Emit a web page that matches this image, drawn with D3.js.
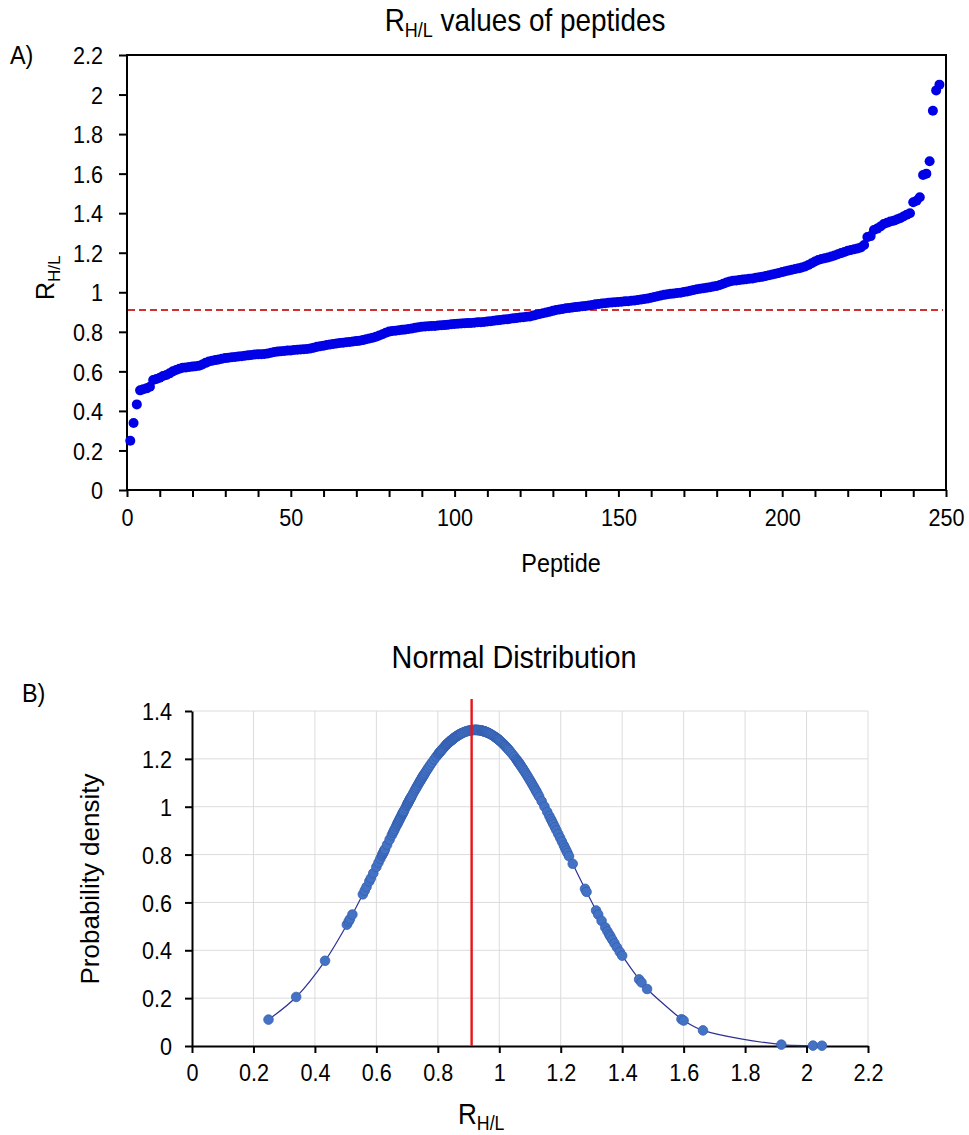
<!DOCTYPE html>
<html>
<head>
<meta charset="utf-8">
<script src="https://cdn.jsdelivr.net/npm/d3@7"></script>
<style>
  body { margin: 0; background: #fff; }
  svg text { font-family: "Liberation Sans", Arial, sans-serif; fill: #000; }
</style>
</head>
<body>
<div id="vis"></div>
<script>
// R(H/L) ratio of each peptide, sorted ascending (peptide 1..248)
const rhlValues = [
  0.249, 0.339, 0.433, 0.504, 0.510, 0.514, 0.522, 0.556, 0.562, 0.568,
  0.577, 0.582, 0.590, 0.600, 0.607, 0.613, 0.618, 0.620, 0.622, 0.624,
  0.626, 0.628, 0.635, 0.643, 0.650, 0.654, 0.657, 0.660, 0.664, 0.667,
  0.669, 0.671, 0.673, 0.675, 0.677, 0.679, 0.681, 0.683, 0.685, 0.686,
  0.687, 0.688, 0.690, 0.694, 0.698, 0.700, 0.702, 0.703, 0.705, 0.706,
  0.708, 0.709, 0.711, 0.712, 0.713, 0.716, 0.720, 0.724, 0.727, 0.730,
  0.733, 0.736, 0.739, 0.741, 0.743, 0.745, 0.747, 0.749, 0.751, 0.753,
  0.755, 0.758, 0.762, 0.766, 0.770, 0.775, 0.781, 0.788, 0.795, 0.801,
  0.804, 0.806, 0.808, 0.810, 0.812, 0.814, 0.817, 0.820, 0.823, 0.826,
  0.827, 0.828, 0.829, 0.830, 0.832, 0.833, 0.834, 0.836, 0.838, 0.840,
  0.841, 0.842, 0.843, 0.844, 0.845, 0.846, 0.848, 0.849, 0.850, 0.852,
  0.854, 0.856, 0.858, 0.860, 0.862, 0.864, 0.866, 0.868, 0.870, 0.872,
  0.874, 0.876, 0.878, 0.882, 0.886, 0.890, 0.894, 0.898, 0.902, 0.906,
  0.910, 0.913, 0.916, 0.919, 0.921, 0.923, 0.925, 0.927, 0.929, 0.931,
  0.933, 0.936, 0.939, 0.941, 0.943, 0.945, 0.947, 0.948, 0.950, 0.951,
  0.952, 0.954, 0.955, 0.957, 0.959, 0.961, 0.963, 0.966, 0.969, 0.972,
  0.976, 0.980, 0.984, 0.987, 0.990, 0.992, 0.994, 0.996, 0.998, 1.001,
  1.004, 1.008, 1.012, 1.015, 1.018, 1.020, 1.023, 1.026, 1.029, 1.032,
  1.037, 1.043, 1.049, 1.055, 1.058, 1.060, 1.062, 1.064, 1.066, 1.068,
  1.070, 1.073, 1.076, 1.079, 1.082, 1.086, 1.090, 1.094, 1.098, 1.102,
  1.106, 1.110, 1.114, 1.118, 1.121, 1.125, 1.130, 1.138, 1.147, 1.156,
  1.163, 1.168, 1.172, 1.176, 1.181, 1.186, 1.192, 1.198, 1.204, 1.210,
  1.214, 1.218, 1.222, 1.227, 1.239, 1.279, 1.284, 1.315, 1.322, 1.333,
  1.345, 1.352, 1.358, 1.362, 1.368, 1.375, 1.383, 1.392, 1.400, 1.455,
  1.463, 1.481, 1.593, 1.600, 1.663, 1.918, 2.021, 2.050
];

// tick labels
const xTicksA = [0, 50, 100, 150, 200, 250];
const yTicksA = [0, 0.2, 0.4, 0.6, 0.8, 1, 1.2, 1.4, 1.6, 1.8, 2, 2.2];
const xTicksB = [0, 0.2, 0.4, 0.6, 0.8, 1, 1.2, 1.4, 1.6, 1.8, 2, 2.2];
const yTicksB = [0, 0.2, 0.4, 0.6, 0.8, 1, 1.2, 1.4];

// reference line (red) and the normal fit
const thresholdValue = 0.91;
const fitMean = 0.922;
const fitSd = 0.302;

const W = 969, H = 1135;
const SQ = 0.9; // the source text is slightly condensed

const svg = d3.select("#vis").append("svg")
  .attr("width", W).attr("height", H);
svg.append("rect").attr("width", W).attr("height", H).attr("fill", "#fff");

function squeeze(sel) { sel.attr("transform", `scale(${SQ},1)`); }

// label with subscript: R with H/L
function rhl(g, size) {
  const t = g.append("text").attr("font-size", size);
  t.append("tspan").text("R");
  t.append("tspan").attr("font-size", size * 0.68).attr("dy", size * 0.22).text("H/L");
  return t;
}

// ---------------- panel A ----------------
const A = { left: 127, right: 946, top: 55, bottom: 490 };
const xA = d3.scaleLinear().domain([0, 250]).range([A.left, A.right]);
const yA = d3.scaleLinear().domain([0, 2.2]).range([A.bottom, A.top]);

const gA = svg.append("g");

// title
const tA = gA.append("g").attr("transform", `translate(525,31) scale(${SQ},1)`);
const titleA = tA.append("text").attr("font-size", 31).attr("text-anchor", "middle");
titleA.append("tspan").text("R");
titleA.append("tspan").attr("font-size", 20).attr("dy", 6).text("H/L");
titleA.append("tspan").attr("dy", -6).text(" values of peptides");

gA.append("g").attr("transform", `translate(10,64) scale(${SQ},1)`)
  .append("text").attr("font-size", 26).text("A)");

// axes
const axA_y = gA.append("g").attr("transform", `translate(${A.left},0)`)
  .call(d3.axisLeft(yA).tickValues(yTicksA).tickSize(8).tickFormat(d3.format("~g")));
const axA_x = gA.append("g").attr("transform", `translate(0,${A.bottom})`)
  .call(d3.axisBottom(xA).tickValues(d3.range(0, 251, 10)).tickSize(7)
    .tickFormat(d => xTicksA.includes(d) ? d : ""));

[axA_y, axA_x].forEach(a => {
  a.select(".domain").remove();
  a.selectAll(".tick line").attr("stroke", "#000").attr("stroke-width", 2);
  a.selectAll("text").attr("font-size", 24).attr("fill", "#000").call(squeeze);
});
axA_y.selectAll("text").attr("x", -24 / SQ).attr("dy", "0.36em");
axA_x.selectAll("text").attr("y", 19).attr("dy", "0.71em");

gA.append("rect")
  .attr("x", A.left).attr("y", A.top)
  .attr("width", A.right - A.left).attr("height", A.bottom - A.top)
  .attr("fill", "none").attr("stroke", "#000").attr("stroke-width", 2);

// threshold line
gA.append("line")
  .attr("x1", A.left + 1).attr("x2", A.right - 3)
  .attr("y1", yA(thresholdValue)).attr("y2", yA(thresholdValue))
  .attr("stroke", "#d03030").attr("stroke-width", 2)
  .attr("stroke-dasharray", "7,4");

// points
gA.append("g").selectAll("circle").data(rhlValues).join("circle")
  .attr("cx", (d, i) => xA(i + 1))
  .attr("cy", d => yA(d))
  .attr("r", 5)
  .attr("fill", "#0000e6");

// axis titles
const tAy = gA.append("g").attr("transform", "translate(54,300) rotate(-90)");
rhl(tAy, 25);
gA.append("g").attr("transform", `translate(561,572) scale(${SQ},1)`)
  .append("text").attr("font-size", 26).attr("text-anchor", "middle").text("Peptide");

// ---------------- panel B ----------------
const B = { left: 192, right: 868, top: 711, bottom: 1046 };
const xB = d3.scaleLinear().domain([0, 2.2]).range([B.left, B.right]);
const yB = d3.scaleLinear().domain([0, 1.4]).range([B.bottom, B.top]);

const gB = svg.append("g");

gB.append("g").attr("transform", `translate(514,668) scale(${SQ},1)`)
  .append("text").attr("font-size", 32).attr("text-anchor", "middle").text("Normal Distribution");
gB.append("g").attr("transform", `translate(22,702) scale(${SQ},1)`)
  .append("text").attr("font-size", 26).text("B)");

// grid
gB.append("g").selectAll("line.v").data(xTicksB.slice(1)).join("line")
  .attr("x1", d => xB(d)).attr("x2", d => xB(d))
  .attr("y1", B.top).attr("y2", B.bottom)
  .attr("stroke", "#dcdcdc").attr("stroke-width", 1);
gB.append("g").selectAll("line.h").data(yTicksB.slice(1)).join("line")
  .attr("x1", B.left).attr("x2", B.right)
  .attr("y1", d => yB(d)).attr("y2", d => yB(d))
  .attr("stroke", "#dcdcdc").attr("stroke-width", 1);

const axB_y = gB.append("g").attr("transform", `translate(${B.left},0)`)
  .call(d3.axisLeft(yB).tickValues(yTicksB).tickSize(7).tickSizeOuter(0).tickFormat(d3.format("~g")));
const axB_x = gB.append("g").attr("transform", `translate(0,${B.bottom})`)
  .call(d3.axisBottom(xB).tickValues(xTicksB).tickSize(7).tickSizeOuter(0).tickFormat(d3.format("~g")));
[axB_y, axB_x].forEach(a => {
  a.select(".domain").attr("stroke", "#000").attr("stroke-width", 2);
  a.selectAll(".tick line").attr("stroke", "#000").attr("stroke-width", 2);
  a.selectAll("text").attr("font-size", 24).attr("fill", "#000").call(squeeze);
});
axB_y.selectAll("text").attr("x", -20 / SQ).attr("dy", "0.36em");
axB_x.selectAll("text").attr("y", 18).attr("dy", "0.71em");

// normal density at each peptide ratio
const gauss = r => Math.exp(-0.5 * ((r - fitMean) / fitSd) ** 2) / (fitSd * Math.sqrt(2 * Math.PI));
const densPts = rhlValues.map(r => ({ r, p: gauss(r) }));

gB.append("path")
  .datum(densPts)
  .attr("fill", "none")
  .attr("stroke", "#2e3192")
  .attr("stroke-width", 1.2)
  .attr("d", d3.line().x(d => xB(d.r)).y(d => yB(d.p)).curve(d3.curveCatmullRom));

gB.append("g").selectAll("circle").data(densPts).join("circle")
  .attr("cx", d => xB(d.r)).attr("cy", d => yB(d.p))
  .attr("r", 4.8)
  .attr("fill", "#4472c4")
  .attr("stroke", "#3560b0")
  .attr("stroke-width", 0.8);

// red mean line
gB.append("line")
  .attr("x1", xB(thresholdValue)).attr("x2", xB(thresholdValue))
  .attr("y1", B.bottom).attr("y2", B.top - 12)
  .attr("stroke", "#e8141b").attr("stroke-width", 2.4);

// axis titles
const tBy = gB.append("g").attr("transform", "translate(99,879) rotate(-90)");
tBy.append("text").attr("font-size", 26).attr("text-anchor", "middle").text("Probability density");
const tBx = gB.append("g").attr("transform", `translate(458,1124) scale(${SQ},1)`);
rhl(tBx, 29);
</script>
</body>
</html>
